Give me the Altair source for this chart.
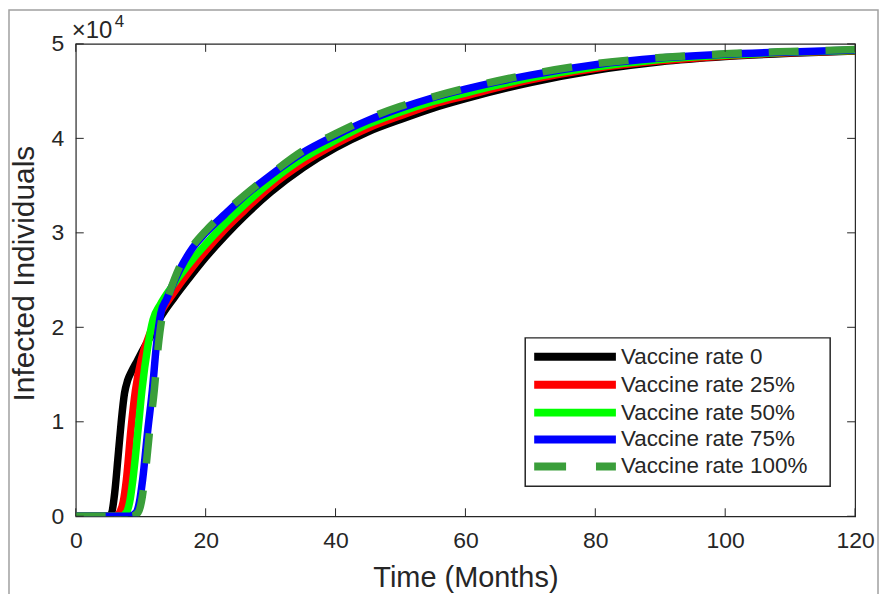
import altair as alt
import pandas as pd

# ---------------- data (values in units of 10^4 infected) ----------------
t_v0 = [0, 5, 5.5, 6, 6.5, 7, 7.5, 8, 8.5, 9.5, 10.5, 11.5, 13, 15, 18, 20, 23, 26, 30, 35, 40, 45, 50, 55, 60, 70, 80, 90, 100, 110, 120]
y_v0 = [0, 0, 0.03, 0.25, 0.62, 1.0, 1.3, 1.44, 1.52, 1.65, 1.78, 1.9, 2.1, 2.3, 2.57, 2.74, 2.97, 3.18, 3.43, 3.69, 3.9, 4.07, 4.2, 4.32, 4.42, 4.59, 4.72, 4.81, 4.865, 4.9, 4.925]

t_v25 = [0, 6, 6.75, 7.3, 7.8, 8.5, 9.2, 10.1, 11.4, 13, 15, 18, 20, 23, 26, 30, 35, 40, 45, 50, 55, 60, 70, 80, 90, 100, 110, 120]
y_v25 = [0, 0, 0.04, 0.15, 0.39, 0.92, 1.34, 1.66, 1.93, 2.15, 2.36, 2.64, 2.81, 3.04, 3.24, 3.49, 3.74, 3.94, 4.11, 4.24, 4.36, 4.45, 4.62, 4.74, 4.82, 4.872, 4.905, 4.928]

t_v50 = [0, 7, 7.8, 8.3, 8.8, 9.6, 10.2, 11.1, 11.9, 13, 15, 18, 20, 23, 26, 30, 35, 40, 45, 50, 55, 60, 70, 80, 90, 100, 110, 120]
y_v50 = [0, 0, 0.04, 0.15, 0.39, 0.92, 1.34, 1.8, 2.08, 2.24, 2.45, 2.72, 2.88, 3.1, 3.3, 3.54, 3.79, 3.98, 4.15, 4.28, 4.39, 4.48, 4.64, 4.755, 4.835, 4.88, 4.91, 4.93]

t_v75 = [0, 8.3, 9.3, 9.8, 10.3, 11.1, 11.8, 12.4, 13.1, 14, 16, 18, 20, 23, 26, 30, 35, 40, 45, 50, 55, 60, 65, 70, 80, 90, 100, 110, 120]
y_v75 = [0, 0, 0.04, 0.15, 0.39, 0.92, 1.34, 1.8, 2.15, 2.3, 2.61, 2.84, 3.0, 3.2, 3.39, 3.61, 3.85, 4.03, 4.19, 4.32, 4.43, 4.52, 4.6, 4.67, 4.78, 4.85, 4.89, 4.915, 4.935]

t_v100 = [0, 8.6, 9.6, 10.1, 10.6, 11.4, 12.1, 12.7, 13.4, 14.2, 16, 18, 20, 23, 26, 30, 35, 40, 45, 50, 55, 60, 65, 70, 80, 90, 100, 110, 120]
y_v100 = [0, 0, 0.04, 0.15, 0.39, 0.92, 1.34, 1.8, 2.15, 2.32, 2.64, 2.86, 3.02, 3.22, 3.4, 3.62, 3.87, 4.05, 4.21, 4.34, 4.44, 4.53, 4.61, 4.68, 4.79, 4.855, 4.895, 4.92, 4.94]

series_names = ["Vaccine rate 0", "Vaccine rate 25%", "Vaccine rate 50%", "Vaccine rate 75%", "Vaccine rate 100%"]
series_colors = ["#000000", "#FF0000", "#00FF00", "#0000FF", "#3A9E3A"]
series_t = [t_v0, t_v25, t_v50, t_v75, t_v100]
series_y = [y_v0, y_v25, y_v50, y_v75, y_v100]

x_ticks = [0, 20, 40, 60, 80, 100, 120]
y_ticks = [0, 10000, 20000, 30000, 40000, 50000]

W, H = 782, 474
TXT = "#262626"
FONT = "Liberation Sans"
DASH = [30, 27]

xs = alt.Scale(domain=[0, 120], nice=False, zero=False)
ys = alt.Scale(domain=[0, 50000], nice=False)

x_axis = alt.Axis(
    values=x_ticks, title="Time (Months)", ticks=False, domain=False, grid=False,
    labelFontSize=23, labelColor=TXT, labelFont=FONT, labelPadding=13, labelFlush=False,
    titleFontSize=29, titleFont=FONT, titleFontWeight="normal", titleColor=TXT,
    titleBaseline="alphabetic", titleY=70)
y_axis = alt.Axis(
    values=y_ticks, labelExpr="datum.value / 10000", title="Infected Individuals",
    ticks=False, domain=False, grid=False, labelFlush=False,
    labelFontSize=23, labelColor=TXT, labelFont=FONT, labelPadding=12,
    titleFontSize=30, titleFont=FONT, titleFontWeight="normal", titleColor=TXT,
    titleBaseline="alphabetic", titleX=-42, titleY=230, titleAngle=270)

layers = []
for i, (name, col, tt, yy) in enumerate(zip(series_names, series_colors, series_t, series_y)):
    df = pd.DataFrame({"t": tt, "v": [val * 10000 for val in yy], "s": name})
    kw = dict(color=col, strokeWidth=7.5, interpolate="monotone", clip=True)
    if i == 4:
        kw["strokeDash"] = DASH
    layers.append(alt.Chart(df).mark_line(**kw).encode(
        x=alt.X("t:Q", scale=xs, axis=x_axis),
        y=alt.Y("v:Q", scale=ys, axis=y_axis),
        order="t:Q"))

one = pd.DataFrame({"a": [0]})
xt = pd.DataFrame({"t": x_ticks})
yt = pd.DataFrame({"v": y_ticks})

tick_layers = [
    alt.Chart(xt).mark_rule(color=TXT, strokeWidth=1).encode(x=alt.X("t:Q", scale=xs, axis=x_axis), y=alt.value(H), y2=alt.value(H - 8)),
    alt.Chart(xt).mark_rule(color=TXT, strokeWidth=1).encode(x=alt.X("t:Q", scale=xs, axis=x_axis), y=alt.value(0), y2=alt.value(8)),
    alt.Chart(yt).mark_rule(color=TXT, strokeWidth=1).encode(y=alt.Y("v:Q", scale=ys, axis=y_axis), x=alt.value(0), x2=alt.value(8)),
    alt.Chart(yt).mark_rule(color=TXT, strokeWidth=1).encode(y=alt.Y("v:Q", scale=ys, axis=y_axis), x=alt.value(W - 8), x2=alt.value(W)),
]

# exponent label
exp_layers = [
    alt.Chart(one).mark_text(text="\u00d710", fontSize=24, font=FONT, color=TXT, align="left", baseline="alphabetic").encode(x=alt.value(-4), y=alt.value(-6)),
    alt.Chart(one).mark_text(text="4", fontSize=17, font=FONT, color=TXT, align="left", baseline="alphabetic").encode(x=alt.value(39), y=alt.value(-17)),
]

# outer figure frame
frame = alt.Chart(one).mark_rect(fillOpacity=0, stroke="#A0A0A0", strokeWidth=1.5).encode(
    x=alt.value(-67), x2=alt.value(805), y=alt.value(-34), y2=alt.value(620))

# legend
LX0, LX1, LY0, LY1 = 451, 757, 295, 444
leg = [alt.Chart(one).mark_rect(fill="white", stroke=TXT, strokeWidth=1.5).encode(
    x=alt.value(LX0), x2=alt.value(LX1), y=alt.value(LY0), y2=alt.value(LY1))]
row_y = [314, 342, 370, 397, 424]
for i, (name, col) in enumerate(zip(series_names, series_colors)):
    kw = dict(color=col, strokeWidth=8)
    if i == 4:
        kw["strokeDash"] = [32, 30]
    leg.append(alt.Chart(one).mark_rule(**kw).encode(x=alt.value(460), x2=alt.value(542), y=alt.value(row_y[i])))
    leg.append(alt.Chart(one).mark_text(text=name, fontSize=22.5, font=FONT, color=TXT, align="left", baseline="middle").encode(
        x=alt.value(547), y=alt.value(row_y[i])))

chart = alt.layer(*layers, frame, *tick_layers, *exp_layers, *leg).properties(
    width=W, height=H,
    autosize=alt.AutoSizeParams(type="none"),
    padding={"left": 68, "top": 35, "right": 24, "bottom": 77},
    background="white",
).configure_view(stroke=TXT, strokeWidth=1.2)

chart.save("out.html", embed_options={"renderer": "svg", "actions": False})
